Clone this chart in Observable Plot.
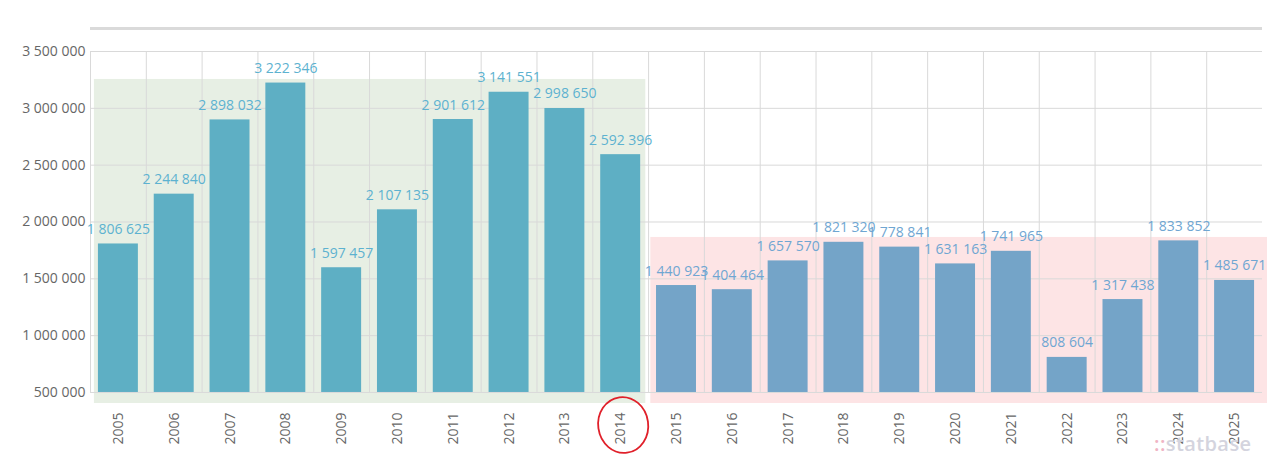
<!DOCTYPE html>
<html><head><meta charset="utf-8">
<script src="https://cdn.jsdelivr.net/npm/d3@7"></script>
<script src="https://cdn.jsdelivr.net/npm/@observablehq/plot@0.6"></script>
<style>
body{margin:0;background:#fff;font-family:"Open Sans",sans-serif;}
#wrap{position:relative;width:1280px;height:457px;}
#wrap svg{position:absolute;left:0;top:0;}
#topbar{position:absolute;left:90px;top:27px;width:1172px;height:3px;background:#dadada;z-index:2;}
#logo{position:absolute;left:1154px;top:434px;font-size:20px;line-height:20px;font-weight:600;color:#d4d4de;letter-spacing:0.4px;z-index:2;}
</style></head><body>
<div id="wrap"><div id="topbar"></div><div id="logo"><span style="color:#f0b4c4">::</span>statbase</div></div>
<script>
const years = [2005, 2006, 2007, 2008, 2009, 2010, 2011, 2012, 2013, 2014, 2015, 2016, 2017, 2018, 2019, 2020, 2021, 2022, 2023, 2024, 2025];
const values = [1806625, 2244840, 2898032, 3222346, 1597457, 2107135, 2901612, 3141551, 2998650, 2592396, 1440923, 1404464, 1657570, 1821320, 1778841, 1631163, 1741965, 808604, 1317438, 1833852, 1485671];
const yTicks = [500000, 1000000, 1500000, 2000000, 2500000, 3000000, 3500000];
const periodStart = [2004.57, 2014.54];
const periodEnd = [2014.45, 2025.59];
const periodTop = [3254000, 1864000];
const periodBottom = 403000;
const splitYear = 2014;

const barColors = ["#5eafc4", "#74a4c8"];
const labelColors = ["#5db2d0", "#6fa6d2"];
const periodColors = ["#e7efe4", "#fde4e5"];

const fmt = d3.formatLocale({decimal: ",", thousands: " ", grouping: [3], currency: ["", ""]}).format(",d");
const data = years.map((year, i) => ({year, value: values[i], group: year <= splitYear ? 0 : 1}));
const periods = periodStart.map((s, i) => ({x1: s, x2: periodEnd[i], y1: periodBottom, y2: periodTop[i], group: i}));
const boundaries = [years[0] - 0.5, ...years.slice(0, -1).map(y => y + 0.5)];

const chart = Plot.plot({
  width: 1280,
  height: 457,
  marginLeft: 90,
  marginRight: 18,
  marginTop: 51,
  marginBottom: 54,
  style: {fontFamily: "'Open Sans', sans-serif", background: "transparent"},
  x: {type: "linear", domain: [2004.5, 2025.5]},
  y: {domain: [periodBottom, 3500000]},
  marks: [
    Plot.rect(periods.filter(d => d.group === 0), {x1: "x1", x2: "x2", y1: "y1", y2: "y2", fill: periodColors[0]}),
    Plot.rect(periods.filter(d => d.group === 1), {x1: "x1", x2: "x2", y1: "y1", y2: "y2", fill: periodColors[1]}),
    Plot.gridY(yTicks, {stroke: "#d9d9d9", strokeOpacity: 1}),
    Plot.ruleX(boundaries, {y1: yTicks[0], y2: yTicks[yTicks.length - 1], stroke: "#d9d9d9"}),
    Plot.rect(data.filter(d => d.group === 0), {x1: d => d.year - 0.358, x2: d => d.year + 0.358, y1: yTicks[0], y2: "value", fill: barColors[0]}),
    Plot.rect(data.filter(d => d.group === 1), {x1: d => d.year - 0.358, x2: d => d.year + 0.358, y1: yTicks[0], y2: "value", fill: barColors[1]}),
    Plot.text(data.filter(d => d.group === 0), {x: "year", y: "value", text: d => fmt(d.value), dy: -10, lineAnchor: "bottom", fontSize: 14, fill: labelColors[0]}),
    Plot.text(data.filter(d => d.group === 1), {x: "year", y: "value", text: d => fmt(d.value), dy: -10, lineAnchor: "bottom", fontSize: 14, fill: labelColors[1]}),
    Plot.axisY({ticks: yTicks, tickFormat: fmt, tickSize: 0, tickPadding: 5, fontSize: 14, fill: "#666", label: null}),
    Plot.axisX({ticks: years, tickFormat: d => String(d), tickRotate: -90, tickSize: 0, tickPadding: 9, fontSize: 14, fill: "#666", label: null})
  ]
});

const xs = chart.scale("x");
const cx = xs.apply(splitYear) + 3;
d3.select(chart).append("ellipse")
  .attr("cx", cx).attr("cy", 425)
  .attr("rx", 25).attr("ry", 28)
  .attr("fill", "none").attr("stroke", "#e0202a").attr("stroke-width", 1.8)
  .attr("transform", `rotate(-8 ${cx} 425)`);

document.getElementById("wrap").appendChild(chart);
</script>
</body></html>
